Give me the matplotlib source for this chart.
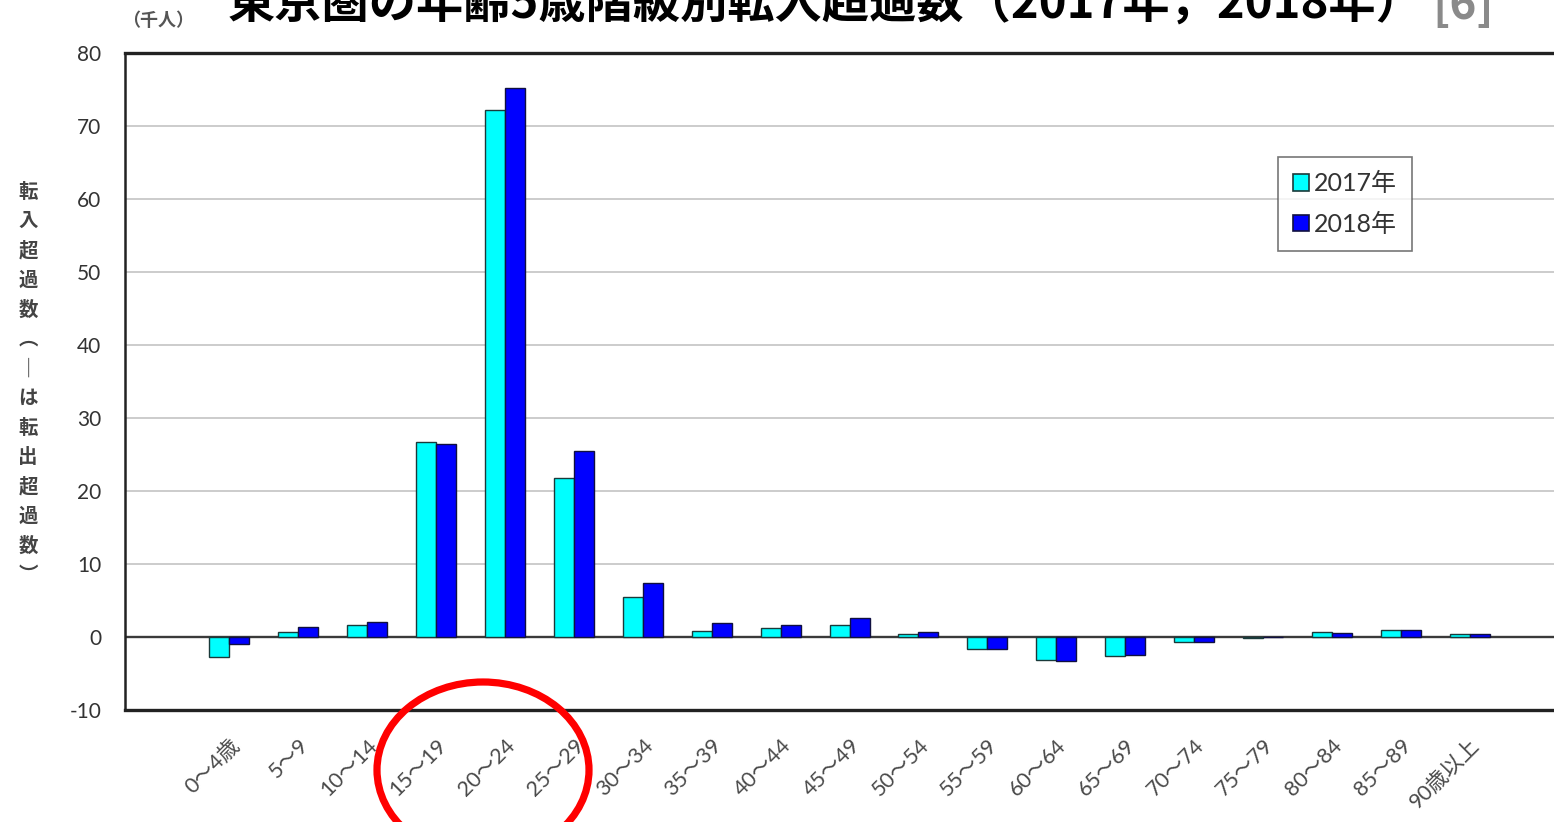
import matplotlib
matplotlib.use("Agg")
import matplotlib.pyplot as plt
from matplotlib.patches import Ellipse
import numpy as np

plt.rcParams['font.family'] = ['Noto Sans CJK JP', 'DejaVu Sans']

categories = ["0～4歳", "5～9", "10～14", "15～19", "20～24", "25～29", "30～34",
              "35～39", "40～44", "45～49", "50～54", "55～59", "60～64", "65～69",
              "70～74", "75～79", "80～84", "85～89", "90歳以上"]
values_2017 = [-2.8, 0.7, 1.6, 26.7, 72.2, 21.8, 5.5, 0.8, 1.3, 1.7, 0.4,
               -1.6, -3.2, -2.6, -0.7, -0.2, 0.7, 0.9, 0.45]
values_2018 = [-0.9, 1.4, 2.0, 26.5, 75.2, 25.5, 7.4, 1.9, 1.7, 2.6, 0.7,
               -1.6, -3.3, -2.4, -0.7, -0.05, 0.55, 0.9, 0.4]
yticks = [-10, 0, 10, 20, 30, 40, 50, 60, 70, 80]
series_labels = ["2017年", "2018年"]

W, H = 1554, 822
fig = plt.figure(figsize=(W / 100, H / 100), dpi=100)
fig.patch.set_facecolor('white')

ax = fig.add_axes([125 / W, 1 - 710 / H, (W - 125) / W + 0.01, (710 - 53) / H])
x = np.arange(len(categories))
bw = 0.29
ax.bar(x - bw / 2, values_2017, bw, color='#00FFFF', edgecolor='#1a3a3a', linewidth=1.0,
       label=series_labels[0], zorder=3)
ax.bar(x + bw / 2, values_2018, bw, color='#0000FF', edgecolor='#101040', linewidth=1.0,
       label=series_labels[1], zorder=3)

ax.set_xlim(-1.516, 19.45)
ax.set_ylim(-10, 80)
ax.set_yticks(yticks)
ax.set_yticklabels([str(v) for v in yticks], family='Lato', fontsize=15, color='#333333')
for v in yticks[2:-1]:
    ax.axhline(v, color='#c4c4c4', linewidth=1.2, zorder=1)
ax.axhline(0, color='#3a3a3a', linewidth=1.7, zorder=2)

ax.set_xticks(x)
ax.set_xticklabels(categories, rotation=45, ha='right', va='top', rotation_mode='anchor',
                   fontsize=15.5, color='#4a4a4a')
for lbl in ax.get_xticklabels():
    lbl.set_family(['Lato', 'Noto Sans CJK JP'])
ax.tick_params(axis='both', length=0)
ax.tick_params(axis='x', pad=18)
ax.tick_params(axis='y', pad=17)

for s in ['top', 'bottom']:
    ax.spines[s].set_linewidth(2.4)
    ax.spines[s].set_color('#222222')
ax.spines['left'].set_linewidth(1.8)
ax.spines['left'].set_color('#222222')
ax.spines['right'].set_visible(False)

leg = ax.legend(loc='upper left', bbox_to_anchor=((1278 - 125) / (W - 125 + 15.5), 1 - (157 - 53) / 657),
                frameon=True, fancybox=False, edgecolor='#555555', fontsize=18,
                handlelength=0.65, handleheight=0.65, handletextpad=0.2,
                labelspacing=0.7, borderpad=0.6, borderaxespad=0)
leg.get_frame().set_linewidth(1.2)
for t in leg.get_texts():
    t.set_family(['Lato', 'Noto Sans CJK JP'])
    t.set_color('#333333')
for h in leg.legend_handles:
    h.set_linewidth(1.2)

# (千人)
fig.text(122 / W, 1 - 21 / H, "（千人）", fontsize=13, color='#555555', ha='left', va='center',
         fontweight='bold')

# vertical y-axis label
ylabel_chars = list("転入超過数︵｜は転出超過数︶")
for i, ch in enumerate(ylabel_chars):
    fig.text(28 / W, 1 - (192 + i * 29.5) / H, ch, fontsize=14, color='#444444',
             ha='center', va='center', fontweight='bold')

# title (clipped at top, as in the source image)
title = fig.text(228 / W, 1 - 19 / H, "東京圏の年齢5歳階級別転入超過数（2017年，2018年）",
                 fontsize=34, fontweight='bold', color='black', ha='left', va='baseline')
fig.text(1432 / W, 1 - 19 / H, "[6]", fontsize=33, color='#8a8a8a', ha='left', va='baseline',
         fontweight='bold')

# red circle
ell = Ellipse((483 / W, 1 - 770 / H), 212 / W, 176 / H, transform=fig.transFigure,
              fill=False, edgecolor='#ff0000', linewidth=5.2, zorder=10)
fig.patches.append(ell)

fig.savefig("out.png", dpi=100, facecolor='white')
